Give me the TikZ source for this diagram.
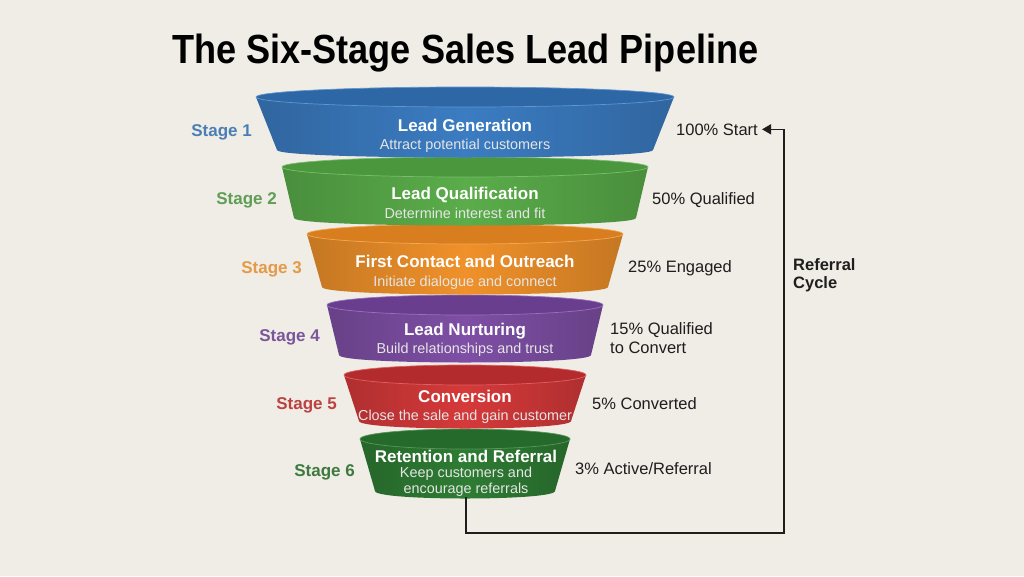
\documentclass[tikz,border=0pt]{standalone}
\usepackage{fontspec}
\setmainfont{Liberation Sans}
\usetikzlibrary{arrows.meta}
\definecolor{bgc}{HTML}{F0ECE6}
\definecolor{c1}{HTML}{3B7CC2}\definecolor{d1}{HTML}{2E67A6}\definecolor{l1}{HTML}{4A7FB6}
\definecolor{c2}{HTML}{5AAD4A}\definecolor{d2}{HTML}{4A973D}\definecolor{l2}{HTML}{5E9E55}
\definecolor{c3}{HTML}{F0912A}\definecolor{d3}{HTML}{D97E1E}\definecolor{l3}{HTML}{E49A46}
\definecolor{c4}{HTML}{7E4FA5}\definecolor{d4}{HTML}{693E8E}\definecolor{l4}{HTML}{7A569B}
\definecolor{c5}{HTML}{D6393A}\definecolor{d5}{HTML}{B42B2E}\definecolor{l5}{HTML}{BC4242}
\definecolor{c6}{HTML}{2E7C33}\definecolor{d6}{HTML}{266A2B}\definecolor{l6}{HTML}{3E7A40}
\definecolor{ink}{HTML}{1E1E1E}
\newcommand\fseg[6]{%
  \shade[left color=#5!82!black, right color=#5!82!black, middle color=#5]
    (465-#2,#1) -- (465-#4,#3) .. controls (465-#4,#3+10) and (465+#4,#3+10) .. (465+#4,#3) -- (465+#2,#1) -- cycle;
  \fill[#6] (465,#1) ellipse [x radius=#2pt, y radius=10pt];
  \draw[#5!80!white, line width=0.7pt] (465,#1) ellipse [x radius=#2pt, y radius=10pt];
}
\tikzset{
  stg/.style={font=\bfseries\fontsize{17}{19}\selectfont, anchor=base east, inner sep=0pt},
  pct/.style={font=\fontsize{16.5}{19}\selectfont, anchor=base west, inner sep=0pt, text=ink, align=left},
  ttl/.style={font=\bfseries\fontsize{17}{19}\selectfont, text=white, inner sep=0pt, anchor=base},
  sub/.style={font=\fontsize{14.4}{15.5}\selectfont, text=white!90!black, inner sep=0pt, align=center, anchor=base},
}
\begin{document}
\begin{tikzpicture}[x=1pt,y=-1pt]
\fill[bgc] (0,0) rectangle (1024,576);
\useasboundingbox (0,0) rectangle (1024,576);
% title
\node[anchor=base west, inner sep=0pt, text=black] (title) at (172,63.5)
  {\resizebox{586pt}{29.5pt}{\bfseries The Six-Stage Sales Lead Pipeline}};
% funnel segments (bottom first)
\fseg{439}{105}{491}{90}{c6}{d6}
\fseg{375}{121}{421}{106}{c5}{d5}
\fseg{305}{138}{355}{126}{c4}{d4}
\fseg{234}{158}{287}{143}{c3}{d3}
\fseg{167}{183}{218}{171}{c2}{d2}
\fseg{97}{209}{150}{188}{c1}{d1}
% texts in funnel
\node[ttl] (t1) at (465,131) {Lead Generation};
\node[sub] (u1) at (465,149) {Attract potential customers};
\node[ttl] (t2) at (465,199) {Lead Qualification};
\node[sub] (u2) at (465,218) {Determine interest and fit};
\node[ttl] (t3) at (465,267) {First Contact and Outreach};
\node[sub] (u3) at (465,286) {Initiate dialogue and connect};
\node[ttl] (t4) at (465,335) {Lead Nurturing};
\node[sub] (u4) at (465,353) {Build relationships and trust};
\node[ttl] (t5) at (465,402) {Conversion};
\node[sub] (u5) at (465,420) {Close the sale and gain customer};
\node[ttl] (t6) at (466,462) {Retention and Referral};
\node[sub] (u6) at (466,493) {Keep customers and\\encourage referrals};
% stage labels
\node[stg, text=l1] (s1) at (252,136) {Stage 1};
\node[stg, text=l2] (s2) at (277,204) {Stage 2};
\node[stg, text=l3] (s3) at (302,273) {Stage 3};
\node[stg, text=l4] (s4) at (320,341) {Stage 4};
\node[stg, text=l5] (s5) at (337,409) {Stage 5};
\node[stg, text=l6] (s6) at (355,476) {Stage 6};
% percentages
\node[pct] (p1) at (676,135) {100\% Start};
\node[pct] (p2) at (652,204) {50\% Qualified};
\node[pct] (p3) at (628,272) {25\% Engaged};
\node[pct] (p4) at (610,353) {15\% Qualified\\to Convert};
\node[pct] (p5) at (592,409) {5\% Converted};
\node[pct] (p6) at (575,474) {3\% Active/Referral};
% referral cycle
\node[anchor=base west, inner sep=0pt, align=left, text=ink, font=\bfseries\fontsize{16.5}{18}\selectfont] (rc) at (793,288) {Referral\\Cycle};
\coordinate (s6b) at (466,497);
\coordinate (lp) at (784,533);
\draw[ink, line width=1.4pt, -{Triangle[length=9pt,width=10pt]}] (s6b) |- (lp) |- ([xshift=4pt]p1.east);
\end{tikzpicture}
\end{document}
